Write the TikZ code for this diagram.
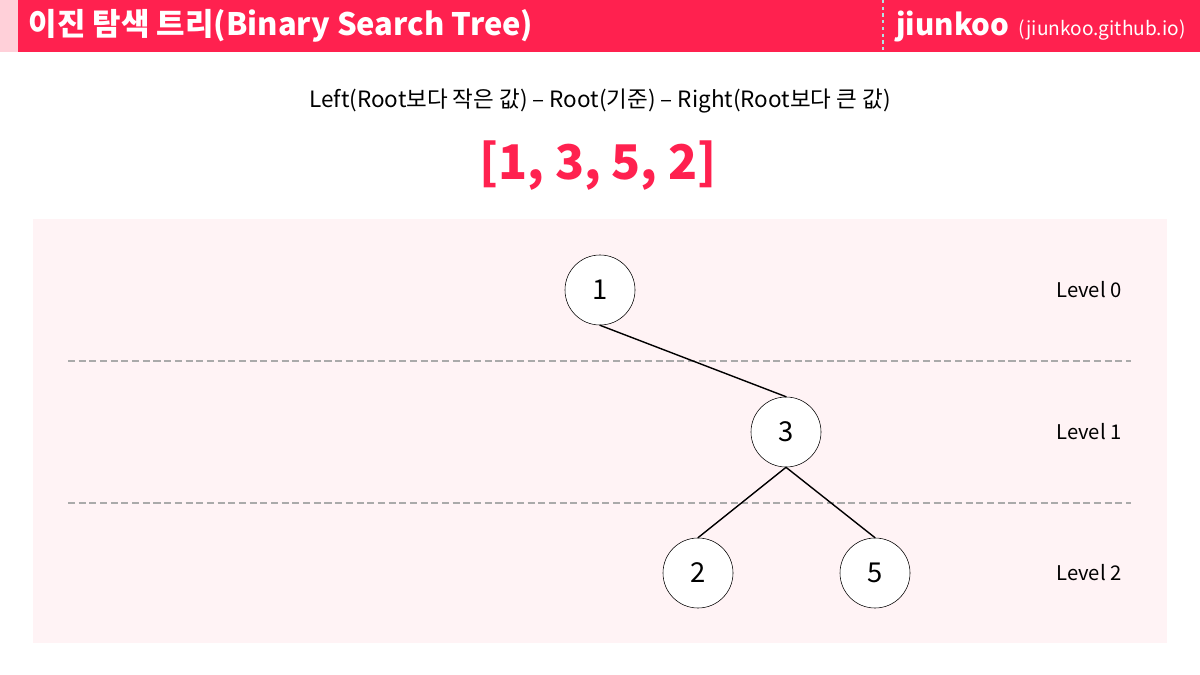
\documentclass[tikz,border=0pt]{standalone}
\usepackage{fontspec}
\setmainfont{Noto Sans CJK KR}
\usetikzlibrary{positioning}
\definecolor{barred}{HTML}{FF214F}
\definecolor{stripink}{HTML}{FFD0D9}
\definecolor{panelpink}{HTML}{FFF3F5}
\definecolor{dotcyan}{HTML}{B4E2E2}
\definecolor{levelgray}{HTML}{AAAAAA}
\tikzset{%
    treenode/.style={circle,draw,thin,fill=white,minimum size=1.75cm,inner sep=0pt,font=\fontsize{19.5}{19.5}\selectfont},
    treeedge/.style={line width=1pt,line cap=round},
    levelline/.style={levelgray,line width=1.1pt,dash pattern=on 5pt off 2.6pt},
    levellabel/.style={font=\fontsize{14.4}{14.4}\selectfont},
}

\begin{document}
\begin{tikzpicture}[x=0.025cm,y=-0.025cm]
      \useasboundingbox[fill=white] (0,0) rectangle (1200,675);
      % header bar
      \fill[stripink] (0,0) rectangle (18,52);
      \fill[barred] (18,0) rectangle (1200,52);
      \draw[dotcyan,line width=1.8pt,dash pattern=on 2.2pt off 2.6pt] (883,0) -- (883,52);
      \node[anchor=west,text=white,font=\bfseries\fontsize{22}{22}\selectfont] (title) at (24,26) {이진 탐색 트리(Binary Search Tree)};
      \node[anchor=west,text=white,font=\bfseries\fontsize{21}{21}\selectfont,inner sep=0pt] (blog) at (896,26) {jiunkoo};
      \node[anchor=base west,text=white,font=\fontsize{13.6}{13.6}\selectfont,inner sep=0pt] (url) at ([xshift=6pt]blog.base east) {(jiunkoo.github.io)};

      % rule and array
      \node[font=\fontsize{16}{16}\selectfont] (rule) at (600,101) {Left(Root보다 작은 값) – Root(기준) – Right(Root보다 큰 값)};
      \node[text=barred,font=\bfseries\fontsize{34}{34}\selectfont] (array) at (598,166) {[1, 3, 5, 2]};

      % panel
      \fill[panelpink] (33,219) rectangle (1167,643);
      \draw[levelline] (68,361) -- (1131,361);
      \draw[levelline] (68,503) -- (1131,503);

      % tree
      \node[treenode] (n1) at (600,290) {1};
      \node[treenode] (n3) at (786,432) {3};
      \node[treenode] (n2) at (698,573) {2};
      \node[treenode] (n5) at (875,573) {5};
      \draw[treeedge] (n1.south) -- (n3.north);
      \draw[treeedge] (n3.south) -- (n2.north);
      \draw[treeedge] (n3.south) -- (n5.north);

      \node[levellabel] (lv0) at (1089,290) {Level 0};
      \node[levellabel] (lv1) at (1089,432) {Level 1};
      \node[levellabel] (lv2) at (1089,573) {Level 2};
\end{tikzpicture}
\end{document}
